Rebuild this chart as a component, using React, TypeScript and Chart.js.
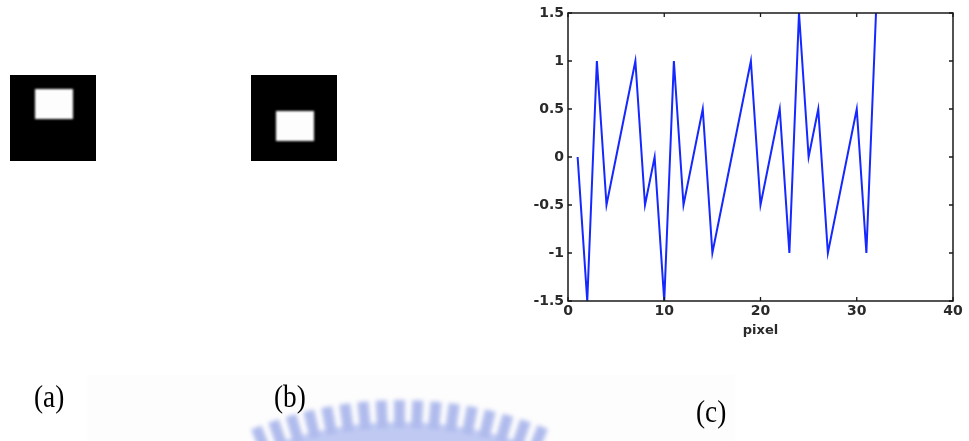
import React, { useEffect, useRef } from "react";
import { Chart, registerables } from "chart.js";

Chart.register(...registerables);

// ---- data ----
const pixelPositions = [
  1, 2, 3, 4, 5, 6, 7, 8, 9, 10, 11, 12, 13, 14, 15, 16,
  17, 18, 19, 20, 21, 22, 23, 24, 25, 26, 27, 28, 29, 30, 31, 32,
];
const signalValues = [
  0, -1.5, 1, -0.5, 0, 0.5, 1, -0.5, 0, -1.5, 1, -0.5, 0, 0.5, -1, -0.5,
  0, 0.5, 1, -0.5, 0, 0.5, -1, 1.5, 0, 0.5, -1, -0.5, 0, 0.5, -1, 1.5,
];
const xTickValues = [0, 10, 20, 30, 40];
const yTickLabels = ["1.5", "1", "0.5", "0", "-0.5", "-1", "-1.5"];
const xAxisTitle = "pixel";
const panelLabels = ["(a)", "(b)", "(c)"];

const tickFont = { family: "'DejaVu Sans', Arial, sans-serif", size: 14, weight: "bold" as const };

const framePlugin = {
  id: "matlabFrame",
  afterDraw(chart: any) {
    const { ctx, chartArea: a, scales } = chart;
    ctx.save();
    ctx.strokeStyle = "#1a1a1a";
    ctx.lineWidth = 1.5;
    ctx.strokeRect(a.left, a.top, a.right - a.left, a.bottom - a.top);
    ctx.lineWidth = 1.3;
    const L = 4;
    ctx.beginPath();
    scales.x.ticks.forEach((t: any) => {
      const x = scales.x.getPixelForValue(t.value);
      ctx.moveTo(x, a.bottom);
      ctx.lineTo(x, a.bottom - L);
      ctx.moveTo(x, a.top);
      ctx.lineTo(x, a.top + L);
    });
    scales.y.ticks.forEach((t: any) => {
      const y = scales.y.getPixelForValue(t.value);
      ctx.moveTo(a.left, y);
      ctx.lineTo(a.left + L, y);
      ctx.moveTo(a.right, y);
      ctx.lineTo(a.right - L, y);
    });
    ctx.stroke();
    ctx.restore();
  },
};

function LineChart() {
  const ref = useRef<HTMLCanvasElement | null>(null);
  useEffect(() => {
    if (!ref.current) return;
    const chart = new Chart(ref.current, {
      type: "line",
      data: {
        datasets: [
          {
            data: pixelPositions.map((x, i) => ({ x, y: signalValues[i] })),
            borderColor: "#1428ff",
            borderWidth: 2,
            pointRadius: 0,
            tension: 0,
            fill: false,
          },
        ],
      },
      options: {
        animation: false,
        responsive: true,
        maintainAspectRatio: false,
        layout: { padding: { left: 0, top: 13, right: 16, bottom: 0 } },
        plugins: { legend: { display: false }, tooltip: { enabled: false } },
        scales: {
          x: {
            type: "linear",
            min: 0,
            max: 40,
            afterBuildTicks: (s: any) => {
              s.ticks = xTickValues.map((v) => ({ value: v }));
            },
            ticks: {
              font: tickFont,
              color: "#2a2a2a",
              padding: 2,
              maxRotation: 0,
              callback: (v: any) => String(v),
            },
            grid: { display: false, drawTicks: false },
            border: { display: false },
            title: {
              display: true,
              text: xAxisTitle,
              font: { family: "'DejaVu Sans', Arial, sans-serif", size: 13, weight: "bold" },
              color: "#2a2a2a",
              padding: { top: 0, bottom: 7 },
            },
            afterFit: (s: any) => {
              s.height = 44;
            },
          },
          y: {
            type: "linear",
            min: -1.5,
            max: 1.5,
            afterBuildTicks: (s: any) => {
              s.ticks = yTickLabels.map((l) => ({ value: Number(l) }));
            },
            ticks: {
              font: tickFont,
              color: "#2a2a2a",
              padding: 4,
              callback: (v: any) => yTickLabels.find((l) => Number(l) === v) ?? "",
            },
            grid: { display: false, drawTicks: false },
            border: { display: false },
            afterFit: (s: any) => {
              s.width = 48;
            },
          },
        },
      },
      plugins: [framePlugin],
    });
    return () => chart.destroy();
  }, []);
  return <canvas ref={ref} />;
}

function Watermark() {
  const cx = 400;
  const cy = 790;
  const R = 390;
  const teeth = [];
  for (let i = -8; i <= 8; i++) {
    const deg = (i * 0.047 * 180) / Math.PI;
    teeth.push(
      <rect
        key={i}
        x={-6}
        y={-R}
        width={11}
        height={28}
        transform={`translate(${cx},${cy}) rotate(${deg})`}
        fill="#a3b0ea"
      />
    );
  }
  return (
    <svg
      width={969}
      height={441}
      style={{ position: "absolute", left: 0, top: 0, pointerEvents: "none" }}
    >
      <defs>
        <filter id="wmblur">
          <feGaussianBlur stdDeviation="2" />
        </filter>
      </defs>
      <g filter="url(#wmblur)" opacity={0.85}>
        <circle cx={cx} cy={cy} r={R - 22} fill="#b6c1f1" />
        {teeth}
      </g>
    </svg>
  );
}

function Square({ left, innerLeft, innerTop }: { left: number; innerLeft: number; innerTop: number }) {
  return (
    <div
      style={{
        position: "absolute",
        left,
        top: 75,
        width: 86,
        height: 86,
        background: "#000",
        overflow: "hidden",
      }}
    >
      <div
        style={{
          position: "absolute",
          left: innerLeft,
          top: innerTop,
          width: 38,
          height: 30,
          background: "#fdfdfd",
          filter: "blur(1.2px)",
        }}
      />
    </div>
  );
}

const labelStyle: React.CSSProperties = {
  position: "absolute",
  fontFamily: "'Liberation Serif', 'Times New Roman', serif",
  fontSize: 31,
  lineHeight: "31px",
  color: "#000",
  whiteSpace: "nowrap",
  transform: "scaleX(0.88)",
  transformOrigin: "left top",
};

export default function App() {
  return (
    <div
      style={{
        position: "absolute",
        left: 0,
        top: 0,
        width: 969,
        height: 441,
        overflow: "hidden",
        background: "#fff",
      }}
    >
      <div
        style={{ position: "absolute", left: 87, top: 375, width: 648, height: 66, background: "#fdfdfd" }}
      />
      <Watermark />
      <Square left={10} innerLeft={25} innerTop={14} />
      <Square left={251} innerLeft={25} innerTop={36} />
      <div style={{ ...labelStyle, left: 34, top: 381 }}>{panelLabels[0]}</div>
      <div style={{ ...labelStyle, left: 274, top: 381 }}>{panelLabels[1]}</div>
      <div style={{ ...labelStyle, left: 696, top: 396 }}>{panelLabels[2]}</div>
      <div style={{ position: "absolute", left: 520, top: 0, width: 449, height: 345 }}>
        <LineChart />
      </div>
    </div>
  );
}
